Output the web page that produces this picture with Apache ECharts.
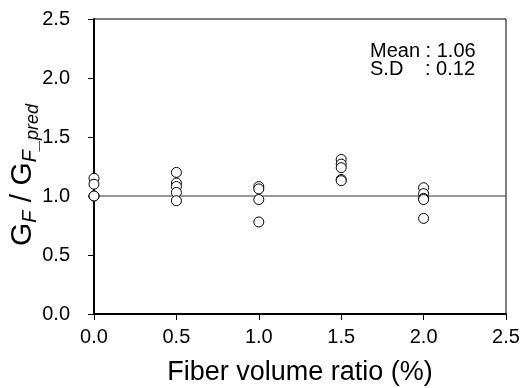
<!DOCTYPE html>
<html>
<head>
<meta charset="utf-8">
<script src="https://cdn.jsdelivr.net/npm/echarts@6/dist/echarts.min.js"></script>
<style>
html,body{margin:0;padding:0;background:#fff;}
#chart{width:520px;height:388px;}
</style>
</head>
<body>
<div id="chart"></div>
<script>
// Fiber volume ratio (%) for each specimen
const fiberRatio = [0.0, 0.0, 0.0, 0.0,
                    0.5, 0.5, 0.5, 0.5, 0.5,
                    1.0, 1.0, 1.0, 1.0,
                    1.5, 1.5, 1.5, 1.5, 1.5,
                    2.0, 2.0, 2.0, 2.0, 2.0];
// G_F / G_F_pred ratios
const gfRatio = [1.15, 1.10, 1.00, 1.00,
                 1.20, 1.11, 1.08, 1.03, 0.96,
                 1.08, 1.06, 0.97, 0.78,
                 1.31, 1.27, 1.24, 1.14, 1.13,
                 1.07, 1.02, 0.98, 0.97, 0.81];
const refLine = [[0, 1.0], [2.5, 1.0]];
const xTicks = [0, 0.5, 1.0, 1.5, 2.0, 2.5];
const yTicks = [0, 0.5, 1.0, 1.5, 2.0, 2.5];
const statLines = [['Mean', ': 1.06'], ['S.D', ': 0.12']];

const FONT = '"Liberation Sans", Arial, sans-serif';
const chart = echarts.init(document.getElementById('chart'), null, {renderer: 'canvas'});
const pts = fiberRatio.map((x, i) => [x, gfRatio[i]]);

chart.setOption({
  animation: false,
  backgroundColor: '#fff',
  grid: {left: 94, right: 14, top: 19, bottom: 74, outerBoundsMode: 'none', containLabel: false,
         show: true, borderColor: '#000', borderWidth: 1, backgroundColor: 'transparent'},
  xAxis: {
    type: 'value', min: xTicks[0], max: xTicks[xTicks.length - 1], interval: 0.5,
    axisLine: {onZero: false, lineStyle: {color: '#000', width: 2}},
    axisTick: {inside: false, length: 6, lineStyle: {color: '#000', width: 1}},
    splitLine: {show: false},
    axisLabel: {margin: 13, fontSize: 20, color: '#000', fontFamily: FONT, formatter: v => v.toFixed(1)},
    name: 'Fiber volume ratio (%)', nameLocation: 'middle', nameGap: 45, nameMoveOverlap: false,
    nameTextStyle: {fontSize: 27, color: '#000', fontFamily: FONT}
  },
  yAxis: {
    type: 'value', min: yTicks[0], max: yTicks[yTicks.length - 1], interval: 0.5,
    axisLine: {onZero: false, lineStyle: {color: '#000', width: 2}},
    axisTick: {inside: false, length: 6, lineStyle: {color: '#000', width: 1}},
    splitLine: {show: false},
    axisLabel: {margin: 24, fontSize: 20, color: '#000', fontFamily: FONT, formatter: v => v.toFixed(1)},
    name: '{g|G}{s|F}{g| / G}{s|F}{p|_pred}', nameLocation: 'middle', nameGap: 52, nameRotate: 90,
    nameMoveOverlap: false,
    nameTextStyle: {
      color: '#000', fontFamily: FONT, padding: [0, 17, 0, 0],
      rich: {
        g: {fontSize: 30, fontFamily: FONT, color: '#000', verticalAlign: 'top'},
        s: {fontSize: 20, fontFamily: FONT, color: '#000', fontStyle: 'italic', verticalAlign: 'top', padding: [12, 0, 0, 0]},
        p: {fontSize: 18, fontFamily: FONT, color: '#000', fontStyle: 'italic', verticalAlign: 'top', padding: [16, 0, 0, 0]}
      }
    }
  },
  graphic: [
    {type: 'text', left: 370, top: 41, style: {text: statLines[0][0] + ' ' + statLines[0][1], fontSize: 20, fontFamily: FONT, fill: '#000'}},
    {type: 'text', left: 370, top: 59, style: {text: statLines[1][0], fontSize: 20, fontFamily: FONT, fill: '#000'}},
    {type: 'text', left: 425, top: 59, style: {text: statLines[1][1], fontSize: 20, fontFamily: FONT, fill: '#000'}}
  ],
  series: [
    {type: 'line', data: refLine, symbol: 'none', z: 1, lineStyle: {color: '#333', width: 1}, silent: true},
    {type: 'scatter', data: pts, symbol: 'circle', symbolSize: 10, clip: false, z: 3,
     itemStyle: {color: '#fff', borderColor: '#000', borderWidth: 1, opacity: 1}}
  ]
});
</script>
</body>
</html>
